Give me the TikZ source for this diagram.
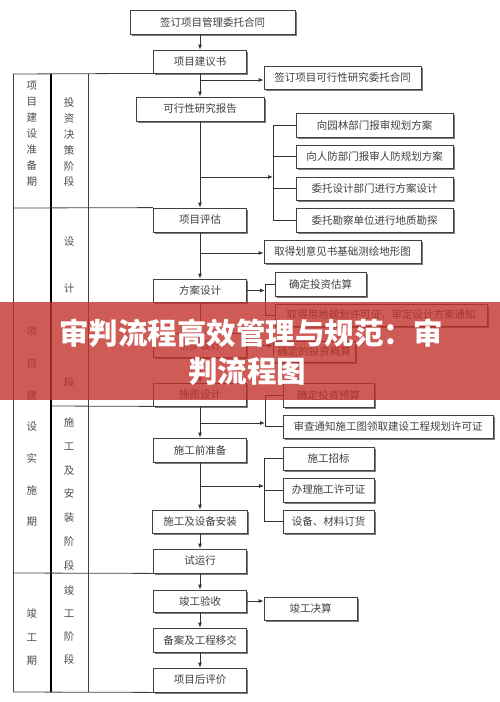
\documentclass[tikz,border=0pt]{standalone}
\usepackage{fontspec}
\newfontfamily\cjk{Noto Sans CJK SC}
\usetikzlibrary{arrows.meta,shadows}
\definecolor{bannercol}{RGB}{195,50,45}
\begin{document}
\begin{tikzpicture}[x=1pt,y=-1pt,
  box/.style={draw=black!75, line width=0.8pt, fill=white, inner sep=0pt,
    font=\cjk\fontsize{10.5}{12}\selectfont, text=black!75,
    drop shadow={shadow xshift=1.6pt, shadow yshift=-1.6pt, fill=black!65, opacity=0.8}},
  sz/.style n args={2}{minimum width=#1pt, minimum height=#2pt},
  ln/.style={draw=black!80, line width=0.8pt},
  arr/.style={ln, -{Latex[length=5pt,width=4pt]}},
  tbl/.style={draw=black!75, line width=0.8pt},
  tblthick/.style={draw=black, line width=1.4pt},
  coltext/.style={inner sep=0pt, align=center, text=black!70},
  banner/.style={fill=bannercol, opacity=0.8},
  bannertext/.style={text=white, inner sep=0pt, font=\cjk\bfseries\fontsize{29.5}{32}\selectfont}
]
\useasboundingbox (0,0) rectangle (500,702);

% ---- main column boxes
\node[box, sz={165}{24}] (top) at (212.5,22) {签订项目管理委托合同};
\node[box, sz={93}{23}] (jys) at (200,61.5) {项目建议书};
\node[box, sz={128}{24}] (kxx) at (200,109) {可行性研究报告};
\node[box, sz={93}{24}] (xmpg) at (200,220) {项目评估};
\node[box, sz={93}{23}] (fasj) at (200,290.5) {方案设计};
\node[box, sz={93}{24}] (cbsj) at (200,345.5) {初步设计};
\node[box, sz={93}{23}] (stsj) at (200,394.5) {施图设计};
\node[box, sz={93}{24}] (sgqzb) at (200,450) {施工前准备};
\node[box, sz={95}{23}] (sgaz) at (200,521.5) {施工及设备安装};
\node[box, sz={93}{24}] (syx) at (200,561) {试运行};
\node[box, sz={93}{22}] (jgys) at (200,601) {竣工验收};
\node[box, sz={93}{24}] (baj) at (200,640) {备案及工程移交};
\node[box, sz={93}{24}] (hpj) at (200,680) {项目后评价};

% ---- side boxes
\node[box, sz={157}{23}] (A) at (342.5,77.5) {签订项目可行性研究委托合同};
\node[box, sz={157}{24}] (B1) at (374.5,125) {向园林部门报审规划方案};
\node[box, sz={157}{23}] (B2) at (374.5,156.5) {向人防部门报审人防规划方案};
\node[box, sz={157}{23}] (B3) at (374.5,188.5) {委托设计部门进行方案设计};
\node[box, sz={157}{24}] (B4) at (374.5,220) {委托勘察单位进行地质勘探};
\node[box, sz={157}{23}] (C) at (342.5,251.5) {取得划意见书基础测绘地形图};
\node[box, sz={91}{24}] (D1) at (320.5,284) {确定投资估算};
\node[box, sz={212}{22}] (D2) at (381,315) {取得用地规划许可证，审定设计方案通知};
\node[box, sz={82}{21}] (E) at (314,351.5) {确定的投资概算};
\node[box, sz={91}{24}] (F1) at (328.5,395) {确定投资预算};
\node[box, sz={210}{23}] (F2) at (388,426.5) {审查通知施工图领取建设工程规划许可证};
\node[box, sz={91}{23}] (G1) at (328.5,458.5) {施工招标};
\node[box, sz={91}{24}] (G2) at (328.5,490) {办理施工许可证};
\node[box, sz={91}{23}] (G3) at (328.5,521.5) {设备、材料订货};
\node[box, sz={93}{23}] (H) at (310.5,608.5) {竣工决算};

% ---- main chain arrows
\draw[arr] (jys.north |- top.south) -- (jys.north);
\draw[arr] (jys.south) -- (kxx.north);
\draw[arr] (kxx.south) -- (xmpg.north);
\draw[arr] (xmpg.south) -- (fasj.north);
\draw[arr] (fasj.south) -- (cbsj.north);
\draw[arr] (cbsj.south) -- (stsj.north);
\draw[arr] (stsj.south) -- (sgqzb.north);
\draw[arr] (sgqzb.south) -- (sgaz.north);
\draw[arr] (sgaz.south) -- (syx.north);
\draw[arr] (syx.south) -- (jgys.north);
\draw[arr] (jgys.south) -- (baj.north);
\draw[arr] (baj.south) -- (hpj.north);

% ---- branches
\coordinate (pa) at (200,80);
\draw[arr] (pa) -- (pa -| A.west);

\coordinate (pb) at (200,177);
\coordinate (brB) at (273,177);
\draw[arr] (pb) -- (brB);
\draw[ln] (B1.west -| brB) -- (B4.west -| brB);
\foreach \n in {B1,B2,B3,B4} \draw[ln] (\n.west -| brB) -- (\n.west);

\coordinate (pc) at (200,253);
\draw[arr] (pc) -- (pc -| C.west);

\coordinate (brD) at (265,290.5);
\draw[arr] (fasj.east) -- (brD);
\draw[ln] (D1.west -| brD) -- (D2.west -| brD);
\foreach \n in {D1,D2} \draw[ln] (\n.west -| brD) -- (\n.west);

\draw[arr] (cbsj.east) -- (cbsj.east -| E.west);

\coordinate (pf) at (200,423);
\coordinate (brF) at (265,423);
\draw[arr] (pf) -- (brF);
\draw[ln] (F1.west -| brF) -- (F2.west -| brF);
\foreach \n in {F1,F2} \draw[ln] (\n.west -| brF) -- (\n.west);

\coordinate (pg) at (200,486);
\coordinate (brG) at (264,486);
\draw[arr] (pg) -- (brG);
\draw[ln] (G1.west -| brG) -- (G3.west -| brG);
\foreach \n in {G1,G2,G3} \draw[ln] (\n.west -| brG) -- (\n.west);

\draw[arr] (jgys.east) -- (jgys.east -| H.west);

% ---- phase table
\coordinate (t0) at (13,74);
\draw[tbl] (13,74) -- (13,692);
\draw[tblthick] (51,74) -- (51,692);
\draw[tbl] (88,74) -- (88,692);
\draw[tbl] (13,74) -- (jys.south west);
\draw[tbl] (13,208) -- (xmpg.north west);
\draw[tbl] (51,406) -- (stsj.south west);
\draw[tbl] (13,573) -- (syx.south west);
\draw[tbl] (13,692) -- (hpj.south west);

\node[coltext, font=\cjk\fontsize{10.5}{16}\selectfont] (c1a) at (32,133.5) {项\\目\\建\\设\\准\\备\\期};
\node[coltext, font=\cjk\fontsize{10.5}{15.8}\selectfont] (c2a) at (69,142.5) {投\\资\\决\\策\\阶\\段};
\node[coltext, font=\cjk\fontsize{10.5}{31.7}\selectfont] (c1b) at (32,427) {项\\目\\建\\设\\实\\施\\期};
\node[coltext, font=\cjk\fontsize{10.5}{47}\selectfont] (c2b) at (69,312) {设\\计\\阶\\段};
\node[coltext, font=\cjk\fontsize{10.5}{23.7}\selectfont] (c2c) at (69,494) {施\\工\\及\\安\\装\\阶\\段};
\node[coltext, font=\cjk\fontsize{10.5}{23.3}\selectfont] (c2d) at (69,625) {竣\\工\\阶\\段};
\node[coltext, font=\cjk\fontsize{10.5}{23.5}\selectfont] (c1c) at (32,637) {竣\\工\\期};

% ---- banner overlay
\fill[banner] (0,302) rectangle (500,400);
\node[bannertext] (bt1) at (251,333) {审判流程高效管理与规范：审};
\node[bannertext] (bt2) at (247,371) {判流程图};
\end{tikzpicture}
\end{document}
